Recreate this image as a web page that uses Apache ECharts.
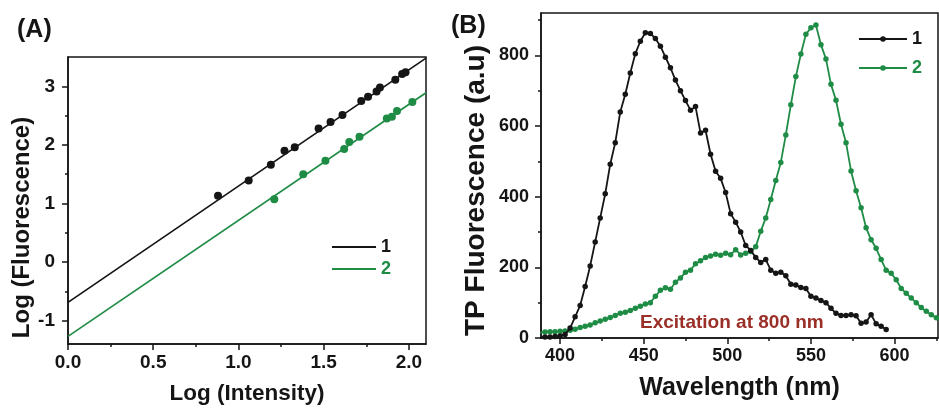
<!DOCTYPE html>
<html>
<head>
<meta charset="utf-8">
<script src="https://cdn.jsdelivr.net/npm/echarts@6/dist/echarts.min.js"></script>
<style>
  html, body { margin: 0; padding: 0; background: #ffffff; }
  #chart { width: 939px; height: 410px; }
</style>
</head>
<body>
<div id="chart"></div>
<script>
// ---- Panel A: log–log power dependence ----
const logIntensity1 = [0.88, 1.06, 1.19, 1.27, 1.33, 1.47, 1.54, 1.61, 1.72, 1.76, 1.81, 1.83, 1.92, 1.96, 1.98];
const logFluor1     = [1.13, 1.39, 1.66, 1.90, 1.96, 2.28, 2.39, 2.51, 2.75, 2.82, 2.91, 2.98, 3.11, 3.21, 3.24];
const logIntensity2 = [1.21, 1.38, 1.51, 1.62, 1.65, 1.71, 1.87, 1.90, 1.93, 2.02];
const logFluor2     = [1.07, 1.50, 1.73, 1.93, 2.05, 2.14, 2.45, 2.48, 2.58, 2.73];
// fitted straight lines, given by their end points
const fitLine1 = [[0, -0.69], [2.1, 3.48]];
const fitLine2 = [[0, -1.27], [2.1, 2.89]];
const ticksAX = [0, 0.5, 1.0, 1.5, 2.0];
const minorAX = [0.25, 0.75, 1.25, 1.75];
const ticksAY = [-1, 0, 1, 2, 3];
const minorAY = [-0.5, 0.5, 1.5, 2.5];

// ---- Panel B: two-photon emission spectra ----
const wavelength = [388, 391, 394, 397, 400, 403, 406, 409, 412, 415, 418, 421, 424, 427, 430, 433, 436, 439, 442, 445,
  448, 451, 454, 457, 460, 463, 466, 469, 472, 475, 478, 481, 484, 487, 490, 493, 496, 499, 502, 505,
  508, 511, 514, 517, 520, 523, 526, 529, 532, 535, 538, 541, 544, 547, 550, 553, 556, 559, 562, 565,
  568, 571, 574, 577, 580, 583, 586, 589, 592, 595, 598, 601, 604, 607, 610, 613, 616, 619, 622, 625, 628];
const emission1 = [2, 3, 3, 4, 6, 10, 28, 60, 92, 146, 204, 272, 340, 408, 492, 553, 640, 690, 750, 805,
  840, 864, 862, 848, 826, 795, 765, 730, 700, 672, 645, 655, 580, 588, 520, 472, 452, 412, 352, 328,
  300, 262, 248, 228, 214, 222, 192, 183, 186, 176, 152, 150, 143, 140, 118, 113, 106, 100, 84, 70,
  64, 64, 66, 63, 42, 45, 66, 40, 33, 24];
const emission2 = [15, 17, 18, 18, 19, 20, 22, 25, 30, 33, 37, 43, 48, 53, 58, 64, 70, 73, 78, 84,
  90, 96, 100, 118, 135, 142, 138, 158, 170, 186, 192, 210, 219, 228, 232, 237, 234, 240, 236, 250,
  235, 240, 245, 258, 302, 340, 392, 446, 497, 575, 660, 740, 804, 860, 878, 886, 830, 790, 718, 673,
  605, 553, 473, 417, 369, 312, 278, 254, 222, 192, 183, 165, 140, 127, 113, 100, 86, 76, 66, 57, 48];
const ticksBX = [400, 450, 500, 550, 600];
const minorBX = [425, 475, 525, 575, 625];
const ticksBY = [0, 200, 400, 600, 800];
const minorBY = [100, 300, 500, 700, 900];

const BLACK = '#151515';
const GREEN = '#1f8c45';
const FONT = 'Liberation Sans';

const pairs = (xs, ys) => ys.map((y, i) => [xs[i], y]);

function mainAxis(gridIndex, position, min, max, ticks, fontSize, margin, fmt, name, nameOpts) {
  return Object.assign({
    type: 'value', gridIndex, position, min, max,
    axisLine: { show: true, onZero: false, lineStyle: { color: BLACK, width: 1.5 } },
    axisTick: { show: true, inside: false, length: 6, customValues: ticks, lineStyle: { color: BLACK, width: 1.5 } },
    axisLabel: { show: true, customValues: ticks, margin, formatter: fmt,
      fontFamily: FONT, fontWeight: 'bold', fontSize, color: BLACK },
    splitLine: { show: false },
    name, nameLocation: 'middle'
  }, nameOpts);
}
// a tick-only companion axis carrying the short intermediate ticks
function minorAxis(gridIndex, position, min, max, ticks) {
  return {
    type: 'value', gridIndex, position, min, max,
    axisLine: { show: false, onZero: false },
    axisTick: { show: true, inside: false, length: 3, customValues: ticks, lineStyle: { color: BLACK, width: 1.5 } },
    axisLabel: { show: false },
    splitLine: { show: false }
  };
}

const chart = echarts.init(document.getElementById('chart'), null, { renderer: 'canvas' });

chart.setOption({
  animation: false,
  backgroundColor: '#ffffff',
  title: [
    { text: '(A)', left: 12, top: 13, textStyle: { fontFamily: FONT, fontWeight: 'bold', fontSize: 25, color: BLACK } },
    { text: '(B)', left: 446, top: 9, textStyle: { fontFamily: FONT, fontWeight: 'bold', fontSize: 25, color: BLACK } }
  ],
  grid: [
    { left: 68, top: 57, width: 358, height: 290, show: true, borderColor: BLACK, borderWidth: 1.5, backgroundColor: 'transparent' },
    { left: 541, top: 13, width: 397, height: 325, show: true, borderColor: BLACK, borderWidth: 1.5, backgroundColor: 'transparent' }
  ],
  xAxis: [
    mainAxis(0, 'bottom', 0, 2.1, ticksAX, 19, 9, v => v.toFixed(1), 'Log (Intensity)',
      { nameGap: 38, nameTextStyle: { fontFamily: FONT, fontWeight: 'bold', fontSize: 22.5, color: BLACK } }),
    minorAxis(0, 'bottom', 0, 2.1, minorAX),
    mainAxis(1, 'bottom', 388.6, 626, ticksBX, 18, 9, v => String(v), 'Wavelength (nm)',
      { nameGap: 38, nameTextStyle: { fontFamily: FONT, fontWeight: 'bold', fontSize: 25, color: BLACK } }),
    minorAxis(1, 'bottom', 388.6, 626, minorBX)
  ],
  yAxis: [
    mainAxis(0, 'left', -1.4, 3.5, ticksAY, 19, 13, v => String(v), 'Log (Fluorescence)',
      { nameGap: 33, nameTextStyle: { fontFamily: FONT, fontWeight: 'bold', fontSize: 24, color: BLACK, padding: [0, 54, 0, 0] } }),
    minorAxis(0, 'left', -1.4, 3.5, minorAY),
    mainAxis(1, 'left', 0, 920, ticksBY, 18, 12, v => String(v), 'TP Fluorescence (a.u)',
      { nameGap: 51, nameTextStyle: { fontFamily: FONT, fontWeight: 'bold', fontSize: 28, color: BLACK, padding: [0, 30, 0, 0] } }),
    minorAxis(1, 'left', 0, 920, minorBY)
  ],
  legend: [
    {
      orient: 'vertical', left: 327, top: 233, icon: 'rect', itemWidth: 44, itemHeight: 2, itemGap: 4,
      textStyle: { fontFamily: FONT, fontWeight: 'bold', fontSize: 18 },
      formatter: n => n.slice(1),
      selectedMode: false,
      data: [
        { name: 'a1', textStyle: { color: BLACK } },
        { name: 'a2', textStyle: { color: GREEN } }
      ]
    },
    {
      orient: 'vertical', left: 853, top: 25, itemWidth: 48, itemHeight: 7, itemGap: 11,
      textStyle: { fontFamily: FONT, fontWeight: 'bold', fontSize: 18 },
      formatter: n => n.slice(1),
      selectedMode: false,
      data: [
        { name: 'b1', textStyle: { color: BLACK } },
        { name: 'b2', textStyle: { color: GREEN } }
      ]
    }
  ],
  graphic: [
    { type: 'text', left: 640, top: 313, silent: true,
      style: { text: 'Excitation at 800 nm', fill: '#9a2f28', font: 'bold 19px "Liberation Sans"' } }
  ],
  series: [
    // Panel A fitted lines
    { type: 'line', name: 'a1', xAxisIndex: 0, yAxisIndex: 0, data: fitLine1, symbol: 'none',
      color: BLACK, lineStyle: { color: BLACK, width: 1.7 }, z: 2 },
    { type: 'line', name: 'a2', xAxisIndex: 0, yAxisIndex: 0, data: fitLine2, symbol: 'none',
      color: GREEN, lineStyle: { color: GREEN, width: 1.7 }, z: 2 },
    // Panel A measured points
    { type: 'scatter', name: 'pts1', xAxisIndex: 0, yAxisIndex: 0, data: pairs(logIntensity1, logFluor1),
      symbol: 'circle', symbolSize: 8, itemStyle: { color: BLACK, opacity: 1 }, z: 3 },
    { type: 'scatter', name: 'pts2', xAxisIndex: 0, yAxisIndex: 0, data: pairs(logIntensity2, logFluor2),
      symbol: 'circle', symbolSize: 8, itemStyle: { color: GREEN, opacity: 1 }, z: 3 },
    // Panel B spectra
    { type: 'line', name: 'b1', xAxisIndex: 2, yAxisIndex: 2, data: pairs(wavelength, emission1),
      symbol: 'circle', symbolSize: 5.5, showAllSymbol: true, clip: true,
      color: BLACK, itemStyle: { color: BLACK }, lineStyle: { color: BLACK, width: 1.8 }, z: 4 },
    { type: 'line', name: 'b2', xAxisIndex: 2, yAxisIndex: 2, data: pairs(wavelength, emission2),
      symbol: 'circle', symbolSize: 5.5, showAllSymbol: true, clip: true,
      color: GREEN, itemStyle: { color: GREEN }, lineStyle: { color: GREEN, width: 1.8 }, z: 3 }
  ]
});
</script>
</body>
</html>
